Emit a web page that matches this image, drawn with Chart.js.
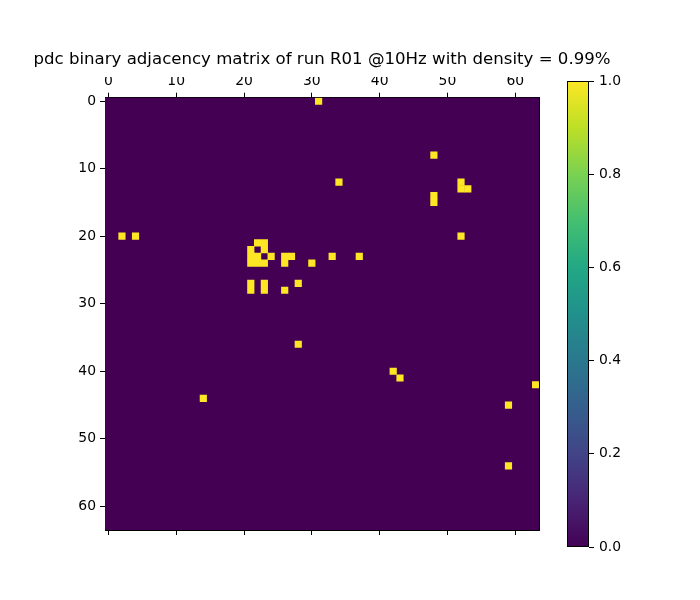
<!DOCTYPE html>
<html><head><meta charset="utf-8">
<script src="https://cdn.jsdelivr.net/npm/chart.js@4"></script>
<style>
html,body{margin:0;padding:0;background:#fff;width:700px;height:600px;overflow:hidden}
#main{position:absolute;left:0;top:0}
#cbar{position:absolute;left:540px;top:0}
</style></head><body>
<canvas id="main" width="624" height="600"></canvas>
<canvas id="cbar" width="160" height="600"></canvas>
<script>
const titleText = 'pdc binary adjacency matrix of run R01 @10Hz with density = 0.99%';
const nodeCount = 64;
// non-zero cells of the binary adjacency matrix (row = y, col = x)
const edgeRows = [0, 8, 12, 12, 13, 13, 14, 15, 20, 20, 20, 21, 21, 22, 22,
  23, 23, 23, 23, 23, 23, 23, 24, 24, 24, 24, 24, 27, 27, 27, 28, 28, 28,
  36, 40, 41, 42, 44, 45, 54];
const edgeCols = [31, 48, 34, 52, 52, 53, 48, 48, 2, 4, 52, 22, 23, 21, 23,
  21, 22, 24, 26, 27, 33, 37, 21, 22, 23, 26, 30, 21, 23, 28, 21, 23, 26,
  28, 42, 43, 63, 14, 59, 59];
const edgeValues = [1, 1, 1, 1, 1, 1, 1, 1, 1, 1, 1, 1, 1, 1, 1,
  1, 1, 1, 1, 1, 1, 1, 1, 1, 1, 1, 1, 1, 1, 1, 1, 1, 1,
  1, 1, 1, 1, 1, 1, 1];
const axisTicks = [0, 10, 20, 30, 40, 50, 60];
const colorbarTicks = [0, 0.2, 0.4, 0.6, 0.8, 1.0];
const viridisStops = ['#440154', '#482475', '#414487', '#355f8d', '#2a788e',
  '#21918c', '#22a884', '#44bf70', '#7ad151', '#bddf26', '#fde725'];

Chart.defaults.font.family = 'DejaVu Sans';
Chart.defaults.color = '#000';

function viridis(v) {
  const i = Math.round(v * (viridisStops.length - 1));
  return viridisStops[Math.max(0, Math.min(viridisStops.length - 1, i))];
}

const tickFont = { family: 'DejaVu Sans', size: 13.9 };
const setTicks = (vals) => (s) => { s.ticks = vals.map(v => ({ value: v })); };

const bgPlugin = {
  id: 'matrixBg',
  beforeDatasetsDraw(chart) {
    const a = chart.chartArea, c = chart.ctx;
    c.save();
    c.fillStyle = viridis(0);
    c.fillRect(a.left, a.top, a.right - a.left, a.bottom - a.top);
    c.restore();
  }
};

const cells = edgeRows.map((r, i) => ({ x: edgeCols[i], y: r, v: edgeValues[i] }));
const cellRadius = ctx => {
  const s = ctx.chart.scales.x;
  return (Math.abs(s.getPixelForValue(1) - s.getPixelForValue(0)) + 0.4) / Math.SQRT2;
};

new Chart(document.getElementById('main'), {
  type: 'scatter',
  data: {
    datasets: [{
      data: cells,
      pointStyle: 'rect',
      borderWidth: 0,
      backgroundColor: ctx => viridis(ctx.raw ? ctx.raw.v : 1),
      pointRadius: cellRadius,
      pointHoverRadius: cellRadius
    }]
  },
  options: {
    responsive: false,
    animation: false,
    devicePixelRatio: 1,
    layout: { padding: { left: 20, right: 0, top: 0, bottom: 60 } },
    plugins: {
      legend: { display: false },
      tooltip: { enabled: false },
      title: {
        display: true,
        text: titleText,
        font: { family: 'DejaVu Sans', size: 16.6, weight: 'normal' },
        color: '#000',
        padding: { top: 50, bottom: 7 }
      }
    },
    scales: {
      x: {
        type: 'linear', position: 'top', min: -0.5, max: nodeCount - 0.5,
        afterBuildTicks: setTicks(axisTicks),
        afterFit: s => { s.height = 20.8; },
        grid: { drawOnChartArea: false, drawTicks: true, tickLength: 5, tickColor: '#000', tickWidth: 1 },
        border: { display: true, color: '#000', width: 1 },
        ticks: { font: tickFont, padding: 3, maxRotation: 0, autoSkip: false, color: '#000' }
      },
      x2: {
        type: 'linear', position: 'bottom', min: -0.5, max: nodeCount - 0.5,
        afterBuildTicks: setTicks(axisTicks),
        afterFit: s => { s.height = 10; },
        grid: { drawOnChartArea: false, drawTicks: true, tickLength: 5, tickColor: '#000', tickWidth: 1 },
        border: { display: true, color: '#000', width: 1 },
        ticks: { font: tickFont, padding: 3, maxRotation: 0, autoSkip: false, callback: () => '' }
      },
      y: {
        type: 'linear', position: 'left', reverse: true, min: -0.5, max: nodeCount - 0.5,
        afterBuildTicks: setTicks(axisTicks),
        afterFit: s => { s.width = 85; },
        grid: { drawOnChartArea: false, drawTicks: true, tickLength: 5, tickColor: '#000', tickWidth: 1 },
        border: { display: true, color: '#000', width: 1 },
        ticks: { font: tickFont, padding: 4, autoSkip: false, color: '#000' }
      },
      y2: {
        type: 'linear', position: 'right', reverse: true, min: -0.5, max: nodeCount - 0.5,
        afterFit: s => { s.width = 85; },
        grid: { drawOnChartArea: false, drawTicks: false },
        border: { display: true, color: '#000', width: 1 },
        ticks: { display: false }
      }
    }
  },
  plugins: [bgPlugin]
});

const framePlugin = {
  id: 'cbFrame',
  afterDraw(chart) {
    const a = chart.chartArea, c = chart.ctx;
    c.save();
    c.strokeStyle = '#000';
    c.lineWidth = 1;
    c.strokeRect(Math.round(a.left) + 0.5, Math.round(a.top) + 0.5,
      Math.round(a.right - a.left) - 1, Math.round(a.bottom - a.top) - 1);
    c.restore();
  }
};

new Chart(document.getElementById('cbar'), {
  type: 'bar',
  data: {
    labels: [''],
    datasets: [{
      data: [[0, 1]],
      barPercentage: 1,
      categoryPercentage: 1,
      borderWidth: 0,
      backgroundColor: ctx => {
        const a = ctx.chart.chartArea;
        if (!a) return viridis(0.5);
        const g = ctx.chart.ctx.createLinearGradient(0, a.bottom, 0, a.top);
        viridisStops.forEach((col, i) => g.addColorStop(i / (viridisStops.length - 1), col));
        return g;
      }
    }]
  },
  options: {
    responsive: false,
    animation: false,
    devicePixelRatio: 1,
    layout: { padding: { left: 27, right: 0, top: 81, bottom: 53 } },
    plugins: { legend: { display: false }, tooltip: { enabled: false }, title: { display: false } },
    scales: {
      x: { display: false },
      y: {
        position: 'right', min: 0, max: 1,
        afterBuildTicks: setTicks(colorbarTicks),
        afterFit: s => { s.width = 111; },
        grid: { drawOnChartArea: false, drawTicks: true, tickLength: 5, tickColor: '#000', tickWidth: 1 },
        border: { display: false },
        ticks: { font: tickFont, padding: 5, autoSkip: false, color: '#000', callback: v => Number(v).toFixed(1) }
      }
    }
  },
  plugins: [framePlugin]
});
</script>
</body></html>
